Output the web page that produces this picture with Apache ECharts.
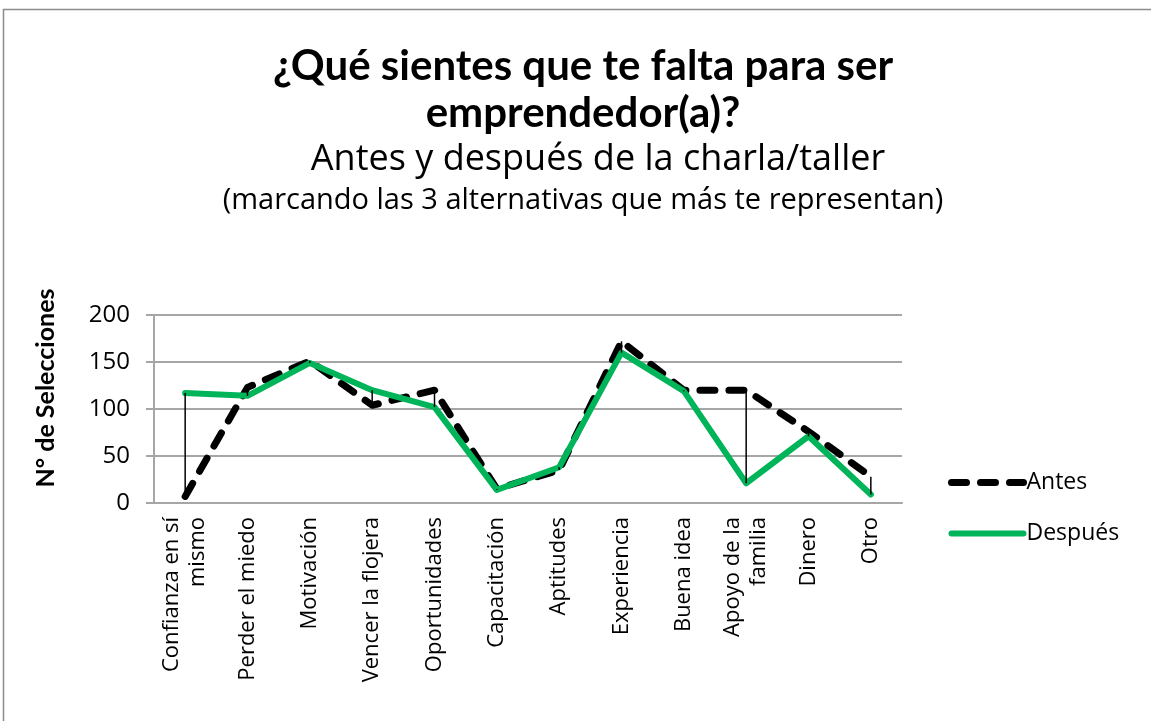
<!DOCTYPE html>
<html>
	<head>
		<meta charset="UTF-8">
		<title></title>
		<script src="https://cdn.jsdelivr.net/npm/echarts@6/dist/echarts.min.js"></script>
	</head>
	<body style="margin:0;background:#fff;">
		<div id="chart_main" style="width:1151px;height:721px;"></div>
		<script>
			// datos
			var categorias = ['Confianza en sí\nmismo', 'Perder el miedo', 'Motivación', 'Vencer la flojera', 'Oportunidades',
				'Capacitación', 'Aptitudes', 'Experiencia', 'Buena idea', 'Apoyo de la\nfamilia', 'Dinero', 'Otro'];
			var antes = [7, 123, 151, 104, 120, 15, 35, 172, 120, 120, 76, 28];
			var despues = [117, 114, 149, 120, 102, 14, 38, 160, 119, 21, 71, 9];
			var ejeY = [0, 50, 100, 150, 200];

			var fuente = 'Open Sans';
			var verde = '#00B45A';
			var estiloAntes = {color: '#000', width: 7, type: [15, 14], cap: 'round', join: 'round'};
			var estiloDespues = {color: verde, width: 6, cap: 'round', join: 'round'};

			// lineas alto-bajo entre las dos series
			var altoBajo = [];
			for (var i = 0; i < categorias.length; i++) {
				altoBajo.push([i, antes[i], despues[i]]);
			}

			var option = {
				animation: false,
				textStyle: {fontFamily: fuente},
				graphic: [
					{type: 'rect', shape: {x: 3.5, y: 9.5, width: 1200, height: 800},
						style: {fill: 'none', stroke: '#8c8c8c', lineWidth: 1.5}},
					{type: 'text', x: 583, y: 66, style: {text: '¿Qué sientes que te falta para ser', align: 'center', verticalAlign: 'middle',
						font: 'bold 42px Lato', fill: '#000'}},
					{type: 'text', x: 583, y: 113, style: {text: 'emprendedor(a)?', align: 'center', verticalAlign: 'middle',
						font: 'bold 42px Lato', fill: '#000'}},
					{type: 'text', x: 598, y: 160, style: {text: 'Antes y después de la charla/taller', align: 'center', verticalAlign: 'middle',
						font: '36px "Open Sans"', fill: '#000'}},
					{type: 'text', x: 583, y: 201, style: {text: '(marcando las 3 alternativas que más te representan)', align: 'center', verticalAlign: 'middle',
						font: '29px "Open Sans"', fill: '#000'}}
				],
				grid: {left: 154, right: 249, top: 315, bottom: 218},
				legend: {
					orient: 'vertical',
					left: 948,
					top: 471,
					padding: 0,
					itemWidth: 72,
					itemHeight: 10,
					itemGap: 28,
					itemStyle: {opacity: 0},
					data: [
						{name: 'Antes', lineStyle: estiloAntes},
						{name: 'Después', lineStyle: estiloDespues}
					],
					textStyle: {fontSize: 23, color: '#000', padding: [0, 0, 0, -2]}
				},
				xAxis: {
					type: 'category',
					data: categorias,
					axisLine: {lineStyle: {color: '#a6a6a6', width: 2}},
					axisTick: {show: false},
					axisLabel: {rotate: 90, fontSize: 22, color: '#000', margin: 14, lineHeight: 26}
				},
				yAxis: {
					type: 'value',
					min: ejeY[0],
					max: ejeY[ejeY.length - 1],
					interval: 50,
					name: 'N° de Selecciones',
					nameLocation: 'middle',
					nameRotate: 90,
					nameGap: 96,
					nameTextStyle: {fontSize: 25, fontWeight: 'bold', color: '#000', fontFamily: 'Lato', padding: [0, 0, 0, 42]},
					axisLine: {show: true, lineStyle: {color: '#a6a6a6', width: 2}},
					axisTick: {show: true, inside: false, length: 8, lineStyle: {color: '#a6a6a6', width: 2}},
					axisLabel: {fontSize: 24, color: '#000', margin: 24},
					splitLine: {lineStyle: {color: '#a6a6a6', width: 2}}
				},
				series: [
					{
						name: 'Antes',
						type: 'line',
						data: antes,
						symbol: 'none',
						z: 3,
						itemStyle: {color: '#000'},
						lineStyle: estiloAntes
					},
					{
						name: 'Después',
						type: 'line',
						data: despues,
						symbol: 'none',
						z: 4,
						itemStyle: {color: verde},
						lineStyle: estiloDespues
					},
					{
						name: 'altoBajo',
						type: 'custom',
						data: altoBajo,
						z: 5,
						renderItem: function(params, api) {
							var p1 = api.coord([api.value(0), api.value(1)]);
							var p2 = api.coord([api.value(0), api.value(2)]);
							return {
								type: 'line',
								shape: {x1: p1[0], y1: p1[1], x2: p2[0], y2: p2[1]},
								style: {stroke: '#000', lineWidth: 1.5}
							};
						}
					}
				]
			};

			var myChart = echarts.init(document.getElementById('chart_main'));
			myChart.setOption(option, true);
		</script>
	</body>
</html>
